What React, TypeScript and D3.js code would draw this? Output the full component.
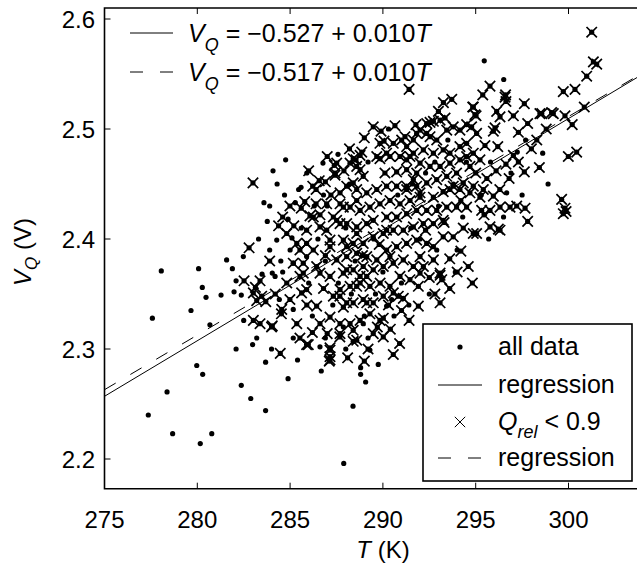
import React from "react";
import * as d3 from "d3";

const T_TICKS = [275, 280, 285, 290, 295, 300];
const V_TICKS = [2.2, 2.3, 2.4, 2.5, 2.6];
const T_DOMAIN = [275, 305];
const V_DOMAIN = [2.173, 2.61];

// regression lines (end points)
const REG_ALL: [number, number][] = [[275, 2.257], [305, 2.560]];
const REG_LOWQ: [number, number][] = [[275, 2.263], [305, 2.561]];

// all data, Q_rel >= 0.9
const DATA_HIGHQ: [number, number][] = [
  [277.36, 2.240], [278.37, 2.261], [278.67, 2.223], [280.16, 2.214], [280.78, 2.223], [280.29, 2.277], [282.37, 2.267], [282.88, 2.255], [283.68, 2.244], [284.89, 2.273], [286.68, 2.280], [288.39, 2.248], [287.89, 2.196], [288.80, 2.277], [289.07, 2.270],
  [278.06, 2.371], [277.58, 2.328], [280.07, 2.373], [280.27, 2.356], [280.47, 2.347], [279.66, 2.335], [280.68, 2.322], [281.28, 2.349], [281.58, 2.381], [281.89, 2.373], [281.98, 2.352], [282.09, 2.362], [282.48, 2.384], [282.37, 2.349], [282.50, 2.326], [282.09, 2.300], [282.98, 2.304], [283.68, 2.288], [279.97, 2.285],
  [283.59, 2.433], [284.08, 2.462], [284.76, 2.472], [283.77, 2.416], [284.89, 2.418], [284.28, 2.399], [283.49, 2.368], [284.04, 2.369], [284.60, 2.370], [284.19, 2.366], [285.10, 2.401], [285.46, 2.445], [285.59, 2.447], [286.77, 2.469], [287.58, 2.477], [285.28, 2.433], [288.80, 2.283],
  [295.46, 2.562], [296.51, 2.545], [297.69, 2.490], [298.61, 2.478], [297.24, 2.479], [296.67, 2.442],
  [289.75, 2.286], [289.30, 2.299], [286.61, 2.302], [285.17, 2.310], [285.17, 2.336], [284.42, 2.345], [287.87, 2.320], [288.94, 2.323], [290.20, 2.339], [290.47, 2.345], [285.89, 2.384], [285.17, 2.378],
  [287.0, 2.430], [288.2, 2.450], [289.5, 2.400], [290.8, 2.440], [291.5, 2.410], [292.3, 2.460], [293.0, 2.430], [286.0, 2.360], [287.3, 2.340], [288.5, 2.380], [290.0, 2.370], [291.0, 2.360], [289.0, 2.330], [292.0, 2.400], [293.8, 2.450], [294.5, 2.470], [295.3, 2.440], [294.0, 2.390], [288.0, 2.410], [286.5, 2.400],
  [283.3, 2.400], [283.9, 2.390], [284.5, 2.380], [285.0, 2.390], [284.7, 2.440], [285.9, 2.460], [286.3, 2.430], [283.9, 2.430], [284.3, 2.450], [286.8, 2.440], [285.6, 2.410], [286.9, 2.380], [287.6, 2.360], [288.3, 2.350], [289.6, 2.350], [290.6, 2.330], [291.4, 2.340], [292.5, 2.350], [289.2, 2.310], [286.2, 2.330], [285.4, 2.290], [286.9, 2.310], [288.0, 2.300], [284.0, 2.300], [283.2, 2.310],
  [291.6, 2.450], [292.8, 2.470], [293.5, 2.490], [290.3, 2.500], [289.2, 2.470], [295.8, 2.470], [296.9, 2.460], [297.5, 2.440], [298.9, 2.450], [292.9, 2.390], [293.9, 2.370], [294.3, 2.420], [295.7, 2.400], [296.5, 2.420],
];

// Q_rel < 0.9
const DATA_LOWQ: [number, number][] = [
  [283.00, 2.451], [282.79, 2.392], [284.38, 2.412], [284.99, 2.430], [285.79, 2.434], [286.22, 2.448], [286.57, 2.453], [287.38, 2.467], [287.42, 2.458], [288.55, 2.472], [282.52, 2.362], [283.13, 2.356], [283.38, 2.362], [283.20, 2.344], [283.69, 2.343], [283.02, 2.326], [283.38, 2.323], [284.04, 2.321], [284.53, 2.332], [285.36, 2.323], [285.53, 2.310], [285.98, 2.304], [287.15, 2.299], [287.15, 2.290], [284.47, 2.296],
  [289.48, 2.502], [290.65, 2.503], [288.86, 2.479], [288.40, 2.473], [288.59, 2.466], [290.06, 2.489], [289.67, 2.475], [290.20, 2.478],
  [291.41, 2.536], [295.77, 2.539], [295.38, 2.531], [296.61, 2.531], [296.63, 2.525], [297.62, 2.523], [299.72, 2.534], [294.84, 2.520], [293.71, 2.527], [293.26, 2.524], [292.99, 2.516], [295.02, 2.512], [296.13, 2.516], [296.31, 2.511], [297.03, 2.512], [298.46, 2.514], [299.09, 2.515], [299.81, 2.512], [296.04, 2.501], [295.95, 2.498], [296.19, 2.484], [298.29, 2.490], [297.03, 2.476], [296.63, 2.468], [297.62, 2.461], [298.43, 2.465], [299.99, 2.475], [299.63, 2.436],
  [291.78, 2.504], [292.54, 2.506], [293.35, 2.510], [300.85, 2.520], [300.20, 2.504], [300.44, 2.479], [299.87, 2.425], [299.81, 2.428], [297.80, 2.416], [296.30, 2.445], [295.95, 2.439], [295.32, 2.426], [295.77, 2.426], [296.31, 2.429], [296.85, 2.429], [297.21, 2.430], [297.66, 2.428], [295.45, 2.422], [296.22, 2.409], [295.77, 2.411], [294.87, 2.405], [294.33, 2.410], [293.79, 2.402], [293.25, 2.402], [292.72, 2.393], [292.00, 2.384], [293.08, 2.369], [293.17, 2.363], [294.82, 2.360], [293.08, 2.342], [291.91, 2.357], [291.91, 2.339], [291.41, 2.326], [290.83, 2.348], [290.02, 2.311], [289.30, 2.332],
  [301.25, 2.588], [301.34, 2.561], [301.52, 2.559], [300.98, 2.548], [300.35, 2.536], [294.87, 2.520], [296.58, 2.529], [298.56, 2.514], [299.18, 2.514], [294.96, 2.513],
  [291.10, 2.346], [293.08, 2.367], [296.31, 2.408], [295.05, 2.405], [299.72, 2.423], [294.2, 2.389], [293.6, 2.382], [294.6, 2.375],
  [286.07, 2.421], [286.61, 2.422], [283.02, 2.351], [283.47, 2.348], [284.00, 2.320], [284.55, 2.336], [285.89, 2.304], [287.15, 2.293], [287.15, 2.301], [287.11, 2.289], [286.61, 2.323], [287.68, 2.311], [288.40, 2.307], [289.13, 2.342], [290.56, 2.295], [290.02, 2.328], [285.71, 2.369], [286.43, 2.375], [287.15, 2.366], [288.05, 2.372], [288.59, 2.357], [287.68, 2.348], [286.43, 2.339], [285.62, 2.351], [284.99, 2.345], [289.13, 2.366], [289.85, 2.360], [290.38, 2.357], [289.67, 2.381], [290.38, 2.384], [288.94, 2.396], [288.05, 2.393], [287.15, 2.393], [286.25, 2.390], [285.36, 2.396], [284.82, 2.405], [285.89, 2.408], [286.97, 2.408], [287.69, 2.414], [288.59, 2.411], [289.48, 2.417], [290.20, 2.408],
  [291.19, 2.493], [291.64, 2.490], [292.00, 2.499], [292.36, 2.505], [292.72, 2.507], [293.08, 2.508], [292.54, 2.493], [292.90, 2.490], [293.44, 2.499], [293.79, 2.502], [294.15, 2.499], [294.51, 2.504], [294.78, 2.502], [295.05, 2.496], [294.51, 2.487], [294.15, 2.484], [293.61, 2.478], [293.25, 2.481], [292.72, 2.478], [292.18, 2.481], [291.64, 2.478], [291.28, 2.472], [292.00, 2.469], [292.54, 2.466], [293.08, 2.466], [293.61, 2.469], [294.15, 2.472], [294.51, 2.475], [294.87, 2.478], [295.23, 2.472], [294.69, 2.466], [293.97, 2.460], [293.44, 2.457], [292.90, 2.454], [292.36, 2.451], [291.64, 2.454], [291.28, 2.448], [292.00, 2.442], [292.72, 2.438], [293.25, 2.443], [293.79, 2.448], [294.33, 2.451], [294.87, 2.448], [295.41, 2.445],
  [287.51, 2.469], [287.42, 2.460], [288.23, 2.469], [288.77, 2.476], [288.94, 2.457], [289.84, 2.487], [290.56, 2.487], [291.01, 2.490], [291.28, 2.484], [291.82, 2.496], [292.36, 2.496], [289.84, 2.473], [290.38, 2.475], [290.92, 2.475], [291.46, 2.475], [290.11, 2.460], [290.74, 2.461], [291.28, 2.463], [291.82, 2.460],
  [288.05, 2.448], [288.59, 2.445], [289.13, 2.442], [289.67, 2.445], [290.20, 2.448], [290.74, 2.448], [291.28, 2.445], [291.82, 2.448], [287.69, 2.432], [288.23, 2.429], [288.77, 2.426], [289.30, 2.429], [289.84, 2.432], [290.38, 2.435], [290.92, 2.432], [291.46, 2.435], [292.00, 2.438], [293.61, 2.445], [294.15, 2.445], [294.69, 2.442], [295.23, 2.438],
  [287.51, 2.417], [288.05, 2.414], [289.13, 2.414], [290.20, 2.420], [290.74, 2.420], [291.28, 2.423], [291.82, 2.426], [292.36, 2.426], [292.90, 2.426], [293.44, 2.429], [293.97, 2.429], [294.51, 2.429],
  [287.87, 2.399], [288.40, 2.396], [289.48, 2.402], [290.02, 2.405], [290.56, 2.408], [291.10, 2.408], [291.64, 2.411], [292.18, 2.414], [292.72, 2.414], [293.25, 2.417],
  [287.51, 2.381], [288.05, 2.384], [288.59, 2.387], [289.13, 2.384], [290.20, 2.390], [290.74, 2.393], [291.28, 2.396], [291.82, 2.399], [292.36, 2.396],
  [287.87, 2.369], [288.40, 2.372], [288.94, 2.375], [289.48, 2.372], [290.02, 2.375], [290.56, 2.378], [291.10, 2.381], [291.64, 2.375], [292.18, 2.375], [292.72, 2.381],
  [287.69, 2.354], [288.23, 2.357], [288.77, 2.360], [289.30, 2.357], [290.92, 2.366], [291.46, 2.363], [292.00, 2.369],
  [287.87, 2.338], [288.40, 2.342], [288.94, 2.345], [289.48, 2.342], [290.02, 2.348], [290.56, 2.351], [288.23, 2.323], [288.77, 2.326], [289.84, 2.326], [287.69, 2.314], [288.59, 2.308], [289.48, 2.314],
  [286.25, 2.420], [286.61, 2.411], [287.33, 2.420], [287.87, 2.429], [288.59, 2.435], [286.97, 2.432], [287.69, 2.442], [288.40, 2.451], [288.77, 2.463], [285.53, 2.390], [285.71, 2.378], [286.61, 2.369], [288.77, 2.366], [285.89, 2.354], [287.33, 2.348], [288.05, 2.342], [287.15, 2.329], [287.69, 2.323], [288.40, 2.317], [284.82, 2.360], [285.53, 2.366], [285.17, 2.378], [285.89, 2.396], [287.15, 2.399], [288.59, 2.405],
  [289.0, 2.492], [289.9, 2.498], [288.2, 2.482],
  [286.4, 2.445], [286.9, 2.452], [287.2, 2.440], [287.0, 2.475], [287.9, 2.462], [286.0, 2.462], [285.6, 2.428], [286.4, 2.432], [289.7, 2.320], [290.4, 2.318], [290.9, 2.305], [289.2, 2.300], [290.3, 2.340], [291.0, 2.335], [292.5, 2.365], [292.8, 2.350], [293.6, 2.355], [294.0, 2.370], [296.8, 2.455], [297.3, 2.470], [296.1, 2.462], [298.0, 2.482], [297.3, 2.497], [298.8, 2.500], [297.8, 2.505], [295.5, 2.485], [295.0, 2.460], [295.6, 2.455], [294.2, 2.435], [293.3, 2.415], [292.3, 2.408], [289.8, 2.395], [288.9, 2.385], [286.9, 2.385], [285.2, 2.412], [284.6, 2.420], [283.9, 2.380], [284.2, 2.350], [285.9, 2.340], [286.8, 2.355], [287.0, 2.314], [286.2, 2.315], [288.1, 2.292], [289.0, 2.289],
];

const W = 637;
const H = 567;
const LEFT = 104.5;
const TOP = 8;
const BOTTOM = 488.7;
const FONT = "'Liberation Sans', Arial, Helvetica, sans-serif";

export default function App() {
  const x = d3.scaleLinear().domain(T_DOMAIN).range([LEFT, LEFT + 30 * 18.56]);
  const y = d3.scaleLinear().domain(V_DOMAIN).range([BOTTOM, TOP]);
  const line = d3.line<[number, number]>().x((d) => x(d[0])).y((d) => y(d[1]));
  const right = x(T_DOMAIN[1]);
  const tickLen = 6;
  const cs = 5.2;
  const crossPath = `M${-cs},${-cs}L${cs},${cs}M${-cs},${cs}L${cs},${-cs}`;
  const allData = [...DATA_HIGHQ, ...DATA_LOWQ];

  return (
    <svg width={W} height={H} style={{ position: "absolute", left: 0, top: 0, background: "#fff" }} fontFamily={FONT}>
      <defs>
        <clipPath id="plotclip">
          <rect x={LEFT} y={TOP} width={right - LEFT} height={BOTTOM - TOP} />
        </clipPath>
      </defs>
      <rect x={0} y={0} width={W} height={H} fill="#fff" />
      <g clipPath="url(#plotclip)">
        {allData.map((d, i) => (
          <circle key={"d" + i} cx={x(d[0])} cy={y(d[1])} r={2.6} fill="#000" />
        ))}
        {DATA_LOWQ.map((d, i) => (
          <path key={"c" + i} transform={`translate(${x(d[0])},${y(d[1])})`} d={crossPath} stroke="#000" strokeWidth={1.7} fill="none" />
        ))}
        <path d={line(REG_ALL) || ""} stroke="#000" strokeWidth={1} fill="none" />
        <path d={line(REG_LOWQ) || ""} stroke="#000" strokeWidth={1} fill="none" strokeDasharray="13,17" />
      </g>
      {/* axes box */}
      <path d={`M${right},${TOP}H${LEFT}V${BOTTOM}H${right}`} stroke="#000" strokeWidth={1.6} fill="none" />
      {T_TICKS.map((t) => (
        <g key={"xt" + t}>
          <line x1={x(t)} x2={x(t)} y1={BOTTOM} y2={BOTTOM - tickLen} stroke="#000" strokeWidth={1} />
          <line x1={x(t)} x2={x(t)} y1={TOP} y2={TOP + tickLen} stroke="#000" strokeWidth={1} />
          <text x={x(t)} y={528} textAnchor="middle" fontSize={24}>{t}</text>
        </g>
      ))}
      {V_TICKS.map((v) => (
        <g key={"yt" + v}>
          <line x1={LEFT} x2={LEFT + tickLen} y1={y(v)} y2={y(v)} stroke="#000" strokeWidth={1} />
          <text x={95} y={y(v) + 8.5} textAnchor="end" fontSize={24}>{v.toFixed(1)}</text>
        </g>
      ))}
      {/* axis labels */}
      <text x={383} y={558} textAnchor="middle" fontSize={24}>
        <tspan fontStyle="italic">T</tspan>
        <tspan> (K)</tspan>
      </text>
      <text transform="translate(31,252) rotate(-90)" textAnchor="middle" fontSize={24}>
        <tspan fontStyle="italic">V</tspan>
        <tspan fontStyle="italic" fontSize={17} dy={6}>Q</tspan>
        <tspan dy={-6}> (V)</tspan>
      </text>
      {/* equation legend */}
      <line x1={130} x2={173} y1={33} y2={33} stroke="#000" strokeWidth={1} />
      <line x1={130} x2={173} y1={72} y2={72} stroke="#000" strokeWidth={1} strokeDasharray="13,17" />
      {[{ yy: 42, txt: "\u22120.527 + 0.010" }, { yy: 81, txt: "\u22120.517 + 0.010" }].map((e, i) => (
        <text key={"eq" + i} x={188} y={e.yy} fontSize={25}>
          <tspan fontStyle="italic">V</tspan>
          <tspan fontStyle="italic" fontSize={18} dy={9}>Q</tspan>
          <tspan dy={-9}> = {e.txt}</tspan>
          <tspan fontStyle="italic">T</tspan>
        </text>
      ))}
      {/* lower-right legend */}
      <rect x={423} y={324} width={209} height={157} fill="#fff" stroke="#000" strokeWidth={1.6} />
      <circle cx={460} cy={347} r={2.6} fill="#000" />
      <text x={498} y={355} fontSize={25}>all data</text>
      <line x1={438} x2={482} y1={385} y2={385} stroke="#000" strokeWidth={1} />
      <text x={498} y={393} fontSize={25}>regression</text>
      <path transform="translate(460,422)" d={crossPath} stroke="#000" strokeWidth={1} fill="none" />
      <text x={498} y={430} fontSize={25}>
        <tspan fontStyle="italic">Q</tspan>
        <tspan fontStyle="italic" fontSize={18} dy={8}>rel</tspan>
        <tspan dy={-8}> &lt; 0.9</tspan>
      </text>
      <line x1={438} x2={482} y1={458} y2={458} stroke="#000" strokeWidth={1} strokeDasharray="13,17" />
      <text x={498} y={466} fontSize={25}>regression</text>
    </svg>
  );
}
